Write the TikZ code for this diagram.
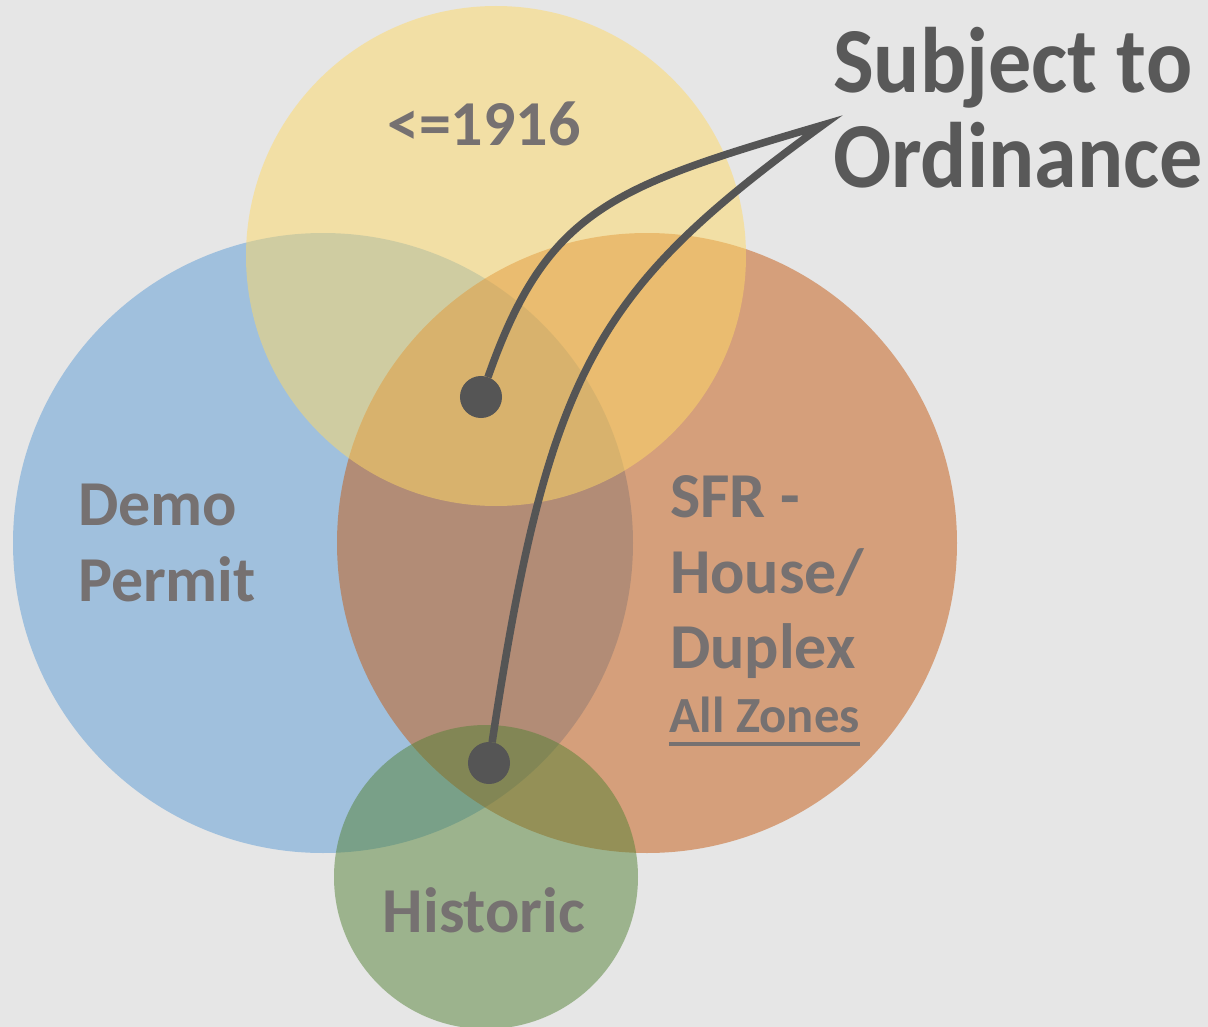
\documentclass[tikz,border=0pt]{standalone}
\usepackage{fontspec}
\setmainfont{Carlito}
\definecolor{bgc}{HTML}{E6E6E6}
\definecolor{cblue}{HTML}{5B9BD5}
\definecolor{corange}{HTML}{C55A11}
\definecolor{cyellow}{HTML}{FFD966}
\definecolor{cgreen}{HTML}{548235}
\definecolor{labgray}{HTML}{767171}
\definecolor{titlegray}{HTML}{595959}
\definecolor{linegray}{HTML}{555555}
\tikzset{
  venn/.style={fill opacity=0.5, draw=none},
  lab/.style={inner sep=0pt, outer sep=0pt, text=labgray, font=\fontsize{18.2}{20}\selectfont\bfseries},
  ttl/.style={inner sep=0pt, outer sep=0pt, text=titlegray, font=\fontsize{24.5}{26}\selectfont\bfseries},
  dotnode/.style={circle, fill=linegray, minimum size=0.42cm, inner sep=0pt, outer sep=0pt},
  conn/.style={draw=linegray, line width=0.075cm, line join=miter}
}
\begin{document}
\begin{tikzpicture}[x=0.01cm, y=-0.01cm]
\fill[bgc] (0,0) rectangle (1208,1027);
\useasboundingbox (0,0) rectangle (1208,1027);
\begin{scope}
\clip (0,0) rectangle (1208,1027);
\fill[venn, cblue] (323,543) circle[radius=310];
\fill[venn, corange] (647,543) circle[radius=310];
\fill[venn, cyellow] (496,256) circle[radius=250];
\fill[venn, cgreen] (486,877) circle[radius=152];
\end{scope}
\node[lab, anchor=base] (y1916) at (484,145) {<=1916};
\node[lab, anchor=base west] (demo) at (78,525) {Demo};
\node[lab, anchor=base west] (permit) at (78,601) {Permit};
\node[lab, anchor=base west] (sfr) at (670,517) {SFR -};
\node[lab, anchor=base west] (house) at (670,593) {House/};
\node[lab, anchor=base west] (duplex) at (670,668) {Duplex};
\node[lab, anchor=base west, font=\fontsize{14.4}{15}\selectfont\bfseries] (zones) at (669,732) {All Zones};
\draw[labgray, line width=0.035cm] (zones.base west) ++(0,12) coordinate (ul1) -- (ul1 -| zones.base east);
\node[lab, anchor=base] (historic) at (484,932) {Historic};
\node[ttl, anchor=base west] (subj) at (833,93) {\scalebox{1}[1.08]{Subject to}};
\node[ttl, anchor=base west] (ord) at (833,187) {\scalebox{1}[1.08]{Ordinance}};
\node[dotnode] (d1) at (481,397) {};
\node[dotnode] (d2) at (489,763) {};
\coordinate (apex) at (823,125);
\draw[conn] (d1) .. controls (547,209) and (612,187) .. (apex)
  .. controls (596,290) and (549,367) .. (d2);
\end{tikzpicture}
\end{document}
